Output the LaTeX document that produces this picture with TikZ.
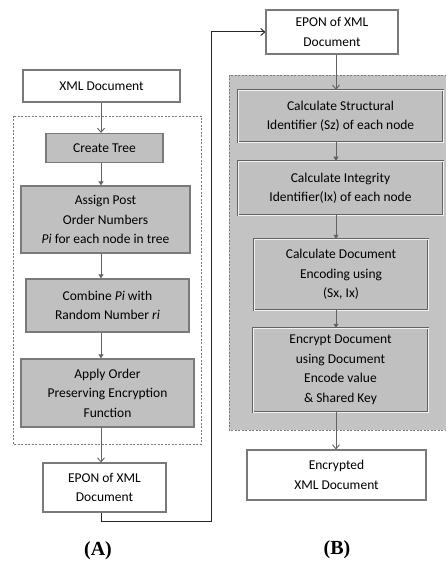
\documentclass[tikz,border=0pt]{standalone}
\usepackage{fontspec}
\setmainfont{Carlito}
\newfontfamily\labelfont{Liberation Serif}
\usetikzlibrary{arrows.meta}
\definecolor{boxgray}{HTML}{C0C0C0}
\definecolor{panelgray}{HTML}{C3C3C3}
\definecolor{edgegray}{HTML}{7A7A7A}
\definecolor{darkedge}{HTML}{626262}
\tikzset{
  every node/.style={inner sep=0pt, align=center, font=\fontsize{13.5}{19.5}\selectfont, text=black},
  plainbox/.style={draw=edgegray, line width=1.1pt, fill=white},
  stagebox/.style={draw=edgegray, line width=1.2pt, fill=boxgray},
  bevelbox/.style={draw=darkedge, line width=0.5pt, double=white!90!gray, double distance=0.7pt, fill=boxgray},
  openhead/.style={-{Straight Barb[length=4pt,width=7pt]}},
  solidhead/.style={-{Triangle[length=4pt,width=5pt]}},
  flow/.style={draw=darkedge, line width=0.9pt},
  group/.style={draw=edgegray, line width=0.8pt, dash pattern=on 2pt off 1.5pt},
  caption/.style={font=\labelfont\bfseries\fontsize{20}{24}\selectfont, text=black}
}
\begin{document}
\begin{tikzpicture}[x=1pt, y=-1pt]
\useasboundingbox (0,0) rectangle (445,564);

% dashed groups
\draw[group] (13,116) rectangle (201,444);
\draw[group, fill=panelgray] (229,75) rectangle (450,430);

% column axes
\coordinate (axA) at (101,0);
\coordinate (axB) at (336,0);
\coordinate (bend) at (211,521);

% left column
\node[plainbox, minimum width=157pt, minimum height=32pt] (xml) at (101.5,86) {XML Document};
\node[stagebox, minimum width=117pt, minimum height=29pt] (tree) at (104.5,148) {Create Tree};
\node[stagebox, minimum width=169pt, minimum height=67pt] (assign) at (105.5,219.5) {Assign Post\\Order Numbers\\\textit{Pi} for each node in tree};
\node[stagebox, minimum width=163pt, minimum height=53pt] (combine) at (107.5,305.5) {Combine \textit{Pi} with\\Random Number \textit{ri}};
\node[stagebox, minimum width=173pt, minimum height=68pt] (apply) at (107.5,393) {Apply Order\\Preserving Encryption\\Function};
\node[plainbox, minimum width=123pt, minimum height=49pt] (eponA) at (104.5,487.5) {EPON of XML\\Document};

% right column
\node[plainbox, minimum width=132pt, minimum height=44pt] (eponB) at (332,32) {EPON of XML\\Document};
\node[bevelbox, minimum width=205pt, minimum height=52pt] (struct) at (340.5,116) {Calculate Structural\\Identifier (Sz) of each node};
\node[bevelbox, minimum width=205pt, minimum height=54pt] (integ) at (340.5,188) {Calculate Integrity\\Identifier(Ix) of each node};
\node[bevelbox, minimum width=174pt, minimum height=71pt] (encode) at (341,274.5) {Calculate Document\\Encoding using\\(Sx, Ix)};
\node[bevelbox, minimum width=175pt, minimum height=84pt] (encrypt) at (340.5,370) {Encrypt Document\\using Document\\Encode value\\\& Shared Key};
\node[plainbox, minimum width=179pt, minimum height=50pt] (result) at (336.5,475) {Encrypted\\XML Document};

% left flow
\draw[flow, openhead] (xml.south -| axA) -- (tree.north -| axA);
\draw[flow, solidhead] (tree.south -| axA) -- (assign.north -| axA);
\draw[flow, solidhead] (assign.south -| axA) -- (combine.north -| axA);
\draw[flow, solidhead] (combine.south -| axA) -- (apply.north -| axA);
\draw[flow, openhead] (apply.south -| axA) -- (eponA.north -| axA);

% hand-over between the two stages
\draw[line width=1pt, draw=black!85, openhead] (eponA.south -| axA) |- (bend) |- (eponB.west);

% right flow
\draw[flow, openhead] (eponB.south -| axB) -- (struct.north -| axB);
\draw[flow, solidhead] (struct.south -| axB) -- (integ.north -| axB);
\draw[flow, solidhead] (integ.south -| axB) -- (encode.north -| axB);
\draw[flow, solidhead] (encode.south -| axB) -- (encrypt.north -| axB);
\draw[flow, openhead] (encrypt.south -| axB) -- (result.north -| axB);

% captions
\node[caption] (capA) at (98,551) {(A)};
\node[caption] (capB) at (337,550) {(B)};
\end{tikzpicture}
\end{document}
